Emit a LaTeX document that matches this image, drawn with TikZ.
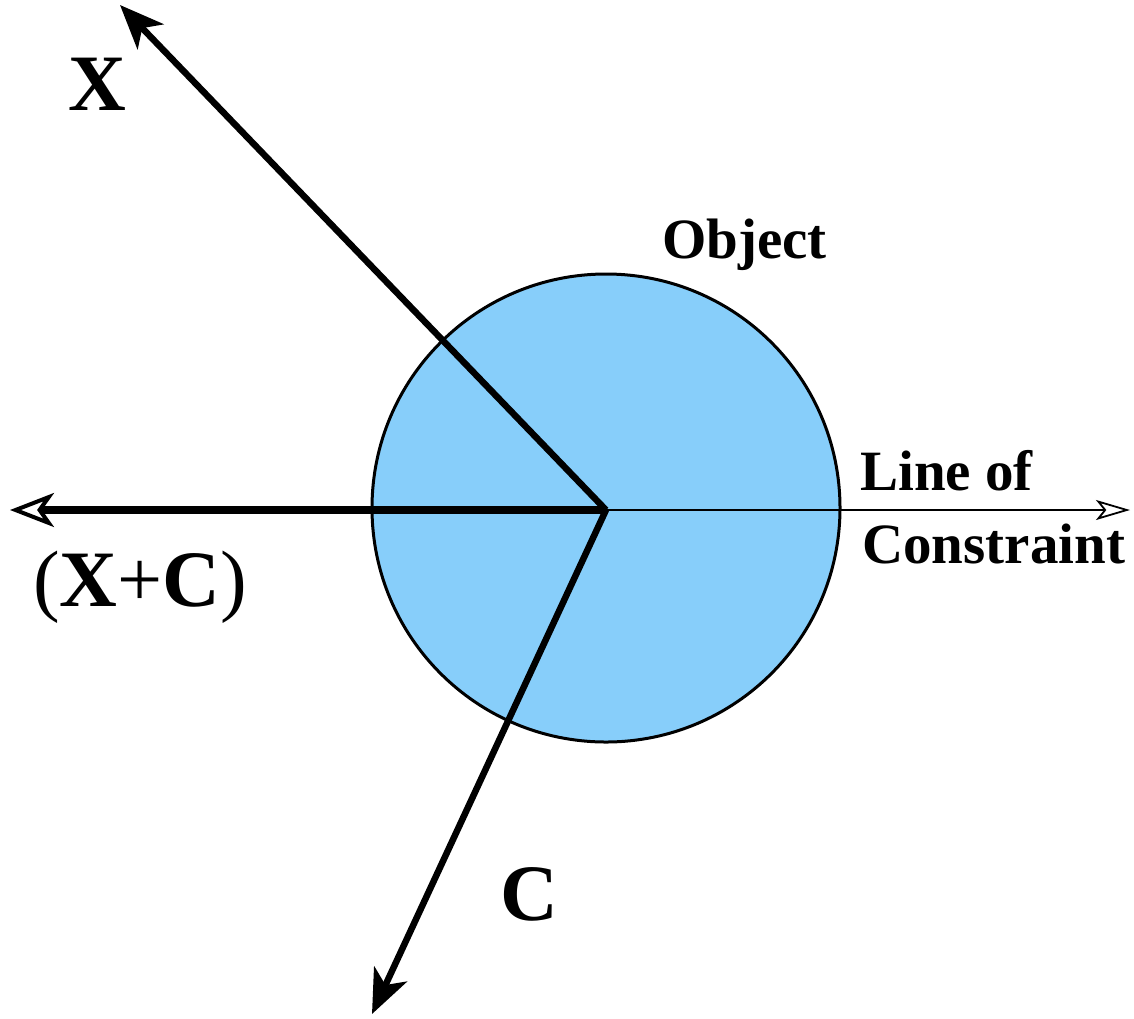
\documentclass[tikz,border=0pt]{standalone}
\usepackage{fontspec}
\setmainfont{Liberation Serif}
\usetikzlibrary{arrows.meta}
\definecolor{objblue}{RGB}{135,206,250}
\begin{document}
\begin{tikzpicture}[x=1pt,y=-1pt,
  lbl/.style={anchor=base west,inner sep=0pt,font=\fontsize{57}{60}\selectfont\bfseries},
  biglbl/.style={anchor=base west,inner sep=0pt,font=\fontsize{80}{84}\selectfont},
  solidhead/.style={-{Stealth[length=44pt,width=36pt,inset=12pt]}},
  vec/.style={line width=6.5pt,solidhead},
]
\useasboundingbox (0,0) rectangle (1134,1018);
\node[circle,draw,line width=3pt,fill=objblue,minimum size=468pt,inner sep=0pt] (obj) at (606,508) {};
\coordinate (O) at (606,510);
\coordinate (xtip) at (120,5);
\coordinate (ctip) at (372,1014);
\coordinate (sumtip) at (10,510);
\coordinate (loctip) at (1130,510);
\draw[line width=1.8pt,-{Stealth[open,fill=white,length=34pt,width=20pt,inset=8pt,line width=1.8pt]}] (O) -- (loctip);
\draw[line width=8pt,-{Stealth[open,fill=white,length=44pt,width=34pt,inset=12pt,line width=4pt]}] (O) -- (sumtip);
\draw[vec] (O) -- (xtip);
\draw[vec] (O) -- (ctip);
\node[lbl] (objlbl) at (662,258) {Object};
\node[lbl] (loc1) at (860,490) {Line of};
\node[lbl] (loc2) at (862,563) {Constraint};
\node[biglbl] (xlbl) at (68,110) {\textbf{X}};
\node[biglbl] (clbl) at (500,920) {\textbf{C}};
\node[biglbl] (sumlbl) at (33,606) {(\textbf{X}+\textbf{C})};
\end{tikzpicture}
\end{document}
